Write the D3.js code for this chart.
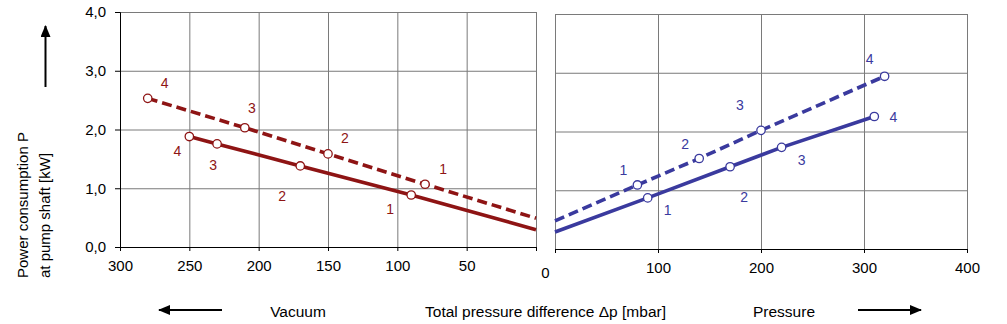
<html>
<meta charset="UTF-8">
<head>
    <title>Power consumption vs pressure difference</title>
    <script src="https://d3js.org/d3.v7.min.js"></script>
    <style>
        body {
            margin: 0;
            background: white;
            font-family: "Liberation Sans", Arial, sans-serif;
        }
        .grid line { stroke: #7a7a7a; }
        .grid .domain { stroke: none; }
        .axis .domain, .axis line { stroke: black; }
        .axis text { font-size: 15px; fill: black; font-family: "Liberation Sans", Arial, sans-serif; }
        .ptLabel { font-size: 14px; }
    </style>
</head>
<body>
    <svg id="chart" width="1007" height="324"></svg>
</body>
<script>
    // --- data
    // vacuum side (left panel), pressure difference in mbar, power in kW
    const vacSolidP = [250, 230, 170, 90];
    const vacSolidKW = [1.88, 1.755, 1.38, 0.885];
    const vacSolidAtZero = 0.295;
    const vacDashP = [280, 210, 150, 80];
    const vacDashKW = [2.53, 2.03, 1.585, 1.068];
    const vacDashAtZero = 0.49;

    // pressure side (right panel)
    const presSolidP = [90, 170, 220, 310];
    const presSolidKW = [0.87, 1.40, 1.73, 2.255];
    const presSolidAtZero = 0.29;
    const presDashP = [80, 140, 200, 320];
    const presDashKW = [1.09, 1.54, 2.02, 2.94];
    const presDashAtZero = 0.48;

    // point numbers, in the same order as the points above
    const vacLabels = ["4", "3", "2", "1"];
    const presLabels = ["1", "2", "3", "4"];

    // tick values
    const powerTicks = [0, 1, 2, 3, 4];
    const vacTicks = [300, 250, 200, 150, 100, 50, 0];
    const presTicks = [0, 100, 200, 300, 400];

    const red = "#8e1414";
    const blue = "#3a3a9e";

    const svg = d3.select("svg#chart");

    // scales for both panels
    const xL = d3.scaleLinear().domain([300, 0]).range([120, 536]);
    const yL = d3.scaleLinear().domain([0, 4]).range([247, 12]);
    const xR = d3.scaleLinear().domain([0, 400]).range([555, 967]);
    const yR = d3.scaleLinear().domain([0, 4]).range([249, 14]);

    const fmtKW = d => d.toFixed(1).replace(".", ",");

    // --- grid lines
    function grid(x, y, xVals, yVals) {
        const w = x.range()[1] - x.range()[0];
        const h = y.range()[0] - y.range()[1];
        svg.append("g").attr("class", "grid")
            .attr("transform", `translate(${x.range()[0]},0)`)
            .call(d3.axisLeft(y).tickValues(yVals).tickSize(-w).tickFormat(""));
        svg.append("g").attr("class", "grid")
            .attr("transform", `translate(0,${y.range()[0]})`)
            .call(d3.axisBottom(x).tickValues(xVals).tickSize(-h).tickFormat(""));
    }
    grid(xL, yL, [250, 200, 150, 100, 50, 0], [1, 2, 3, 4]);
    grid(xR, yR, [0, 100, 200, 300, 400], [1, 2, 3, 4]);

    // --- axes
    svg.append("g").attr("class", "axis")
        .attr("transform", `translate(${xL.range()[0]},0)`)
        .call(d3.axisLeft(yL).tickValues(powerTicks).tickSize(5).tickPadding(9).tickFormat(fmtKW));

    svg.append("g").attr("class", "axis")
        .attr("transform", `translate(0,${yL.range()[0]})`)
        .call(d3.axisBottom(xL).tickValues(vacTicks).tickSize(4).tickPadding(9.5)
            .tickFormat(d => d === 0 ? "" : d));

    svg.append("g").attr("class", "axis")
        .attr("transform", `translate(0,${yR.range()[0]})`)
        .call(d3.axisBottom(xR).tickValues(presTicks).tickSize(4).tickPadding(9)
            .tickFormat(d => d === 0 ? "" : d));

    // the shared zero sits between the panels, a bit lower
    svg.append("text")
        .attr("x", (xL(0) + xR(0)) / 2)
        .attr("y", 278)
        .attr("text-anchor", "middle")
        .attr("font-size", "15px")
        .text("0");

    // --- series
    const line = (x, y) => d3.line().x(d => x(d[0])).y(d => y(d[1]));

    function series(x, y, ps, kws, atZero, color, dashed, labels, offsets, zeroFirst) {
        const pts = ps.map((p, i) => [p, kws[i]]);
        const path = zeroFirst ? [[0, atZero]].concat(pts) : pts.concat([[0, atZero]]);
        svg.append("path")
            .attr("d", line(x, y)(path))
            .attr("fill", "none")
            .attr("stroke", color)
            .attr("stroke-width", 3.6)
            .attr("stroke-dasharray", dashed ? "10,5" : null);
        svg.selectAll(null).data(pts).join("circle")
            .attr("cx", d => x(d[0]))
            .attr("cy", d => y(d[1]))
            .attr("r", 4.2)
            .attr("fill", "white")
            .attr("stroke", color)
            .attr("stroke-width", 1.3);
        svg.selectAll(null).data(pts).join("text")
            .attr("class", "ptLabel")
            .attr("x", (d, i) => x(d[0]) + offsets[i][0])
            .attr("y", (d, i) => y(d[1]) + offsets[i][1])
            .attr("text-anchor", "middle")
            .attr("dominant-baseline", "central")
            .attr("fill", color)
            .text((d, i) => labels[i]);
    }

    series(xL, yL, vacDashP, vacDashKW, vacDashAtZero, red, true, vacLabels,
        [[17, -15], [7, -20], [17, -16], [18, -15]], false);
    series(xL, yL, vacSolidP, vacSolidKW, vacSolidAtZero, red, false, vacLabels,
        [[-12, 14], [-4, 21], [-18, 30], [-21, 14]], false);
    series(xR, yR, presDashP, presDashKW, presDashAtZero, blue, true, presLabels,
        [[-14, -15], [-14, -15], [-21, -25], [-15, -17]], true);
    series(xR, yR, presSolidP, presSolidKW, presSolidAtZero, blue, false, presLabels,
        [[20, 12], [14, 30], [20, 13], [19, 0]], true);

    // --- arrows and titles
    svg.append("defs").append("marker")
        .attr("id", "head")
        .attr("viewBox", "0 0 12 10")
        .attr("refX", 11).attr("refY", 5)
        .attr("markerWidth", 12).attr("markerHeight", 10)
        .attr("markerUnits", "userSpaceOnUse")
        .attr("orient", "auto")
        .append("path").attr("d", "M0,0 L12,5 L0,10 Z").attr("fill", "black");

    const arrow = (x1, y1, x2, y2) => svg.append("line")
        .attr("x1", x1).attr("y1", y1).attr("x2", x2).attr("y2", y2)
        .attr("stroke", "black").attr("stroke-width", 2)
        .attr("marker-end", "url(#head)");

    arrow(45.5, 87, 45.5, 26);
    arrow(222, 310, 159, 310);
    arrow(858, 310, 921, 310);

    const yTitle = svg.append("text")
        .attr("transform", "translate(0,278) rotate(-90)")
        .attr("font-size", "15px");
    yTitle.append("tspan").attr("x", 0).attr("y", 28).text("Power consumption P");
    yTitle.append("tspan").attr("x", 0).attr("y", 50).text("at pump shaft [kW]");

    const bottomTitle = (x, t) => svg.append("text")
        .attr("x", x).attr("y", 316.5)
        .attr("text-anchor", "middle")
        .attr("font-size", "15.5px")
        .text(t);
    bottomTitle(298, "Vacuum");
    bottomTitle(545.5, "Total pressure difference \u0394p [mbar]");
    bottomTitle(784, "Pressure");
</script>
</html>
